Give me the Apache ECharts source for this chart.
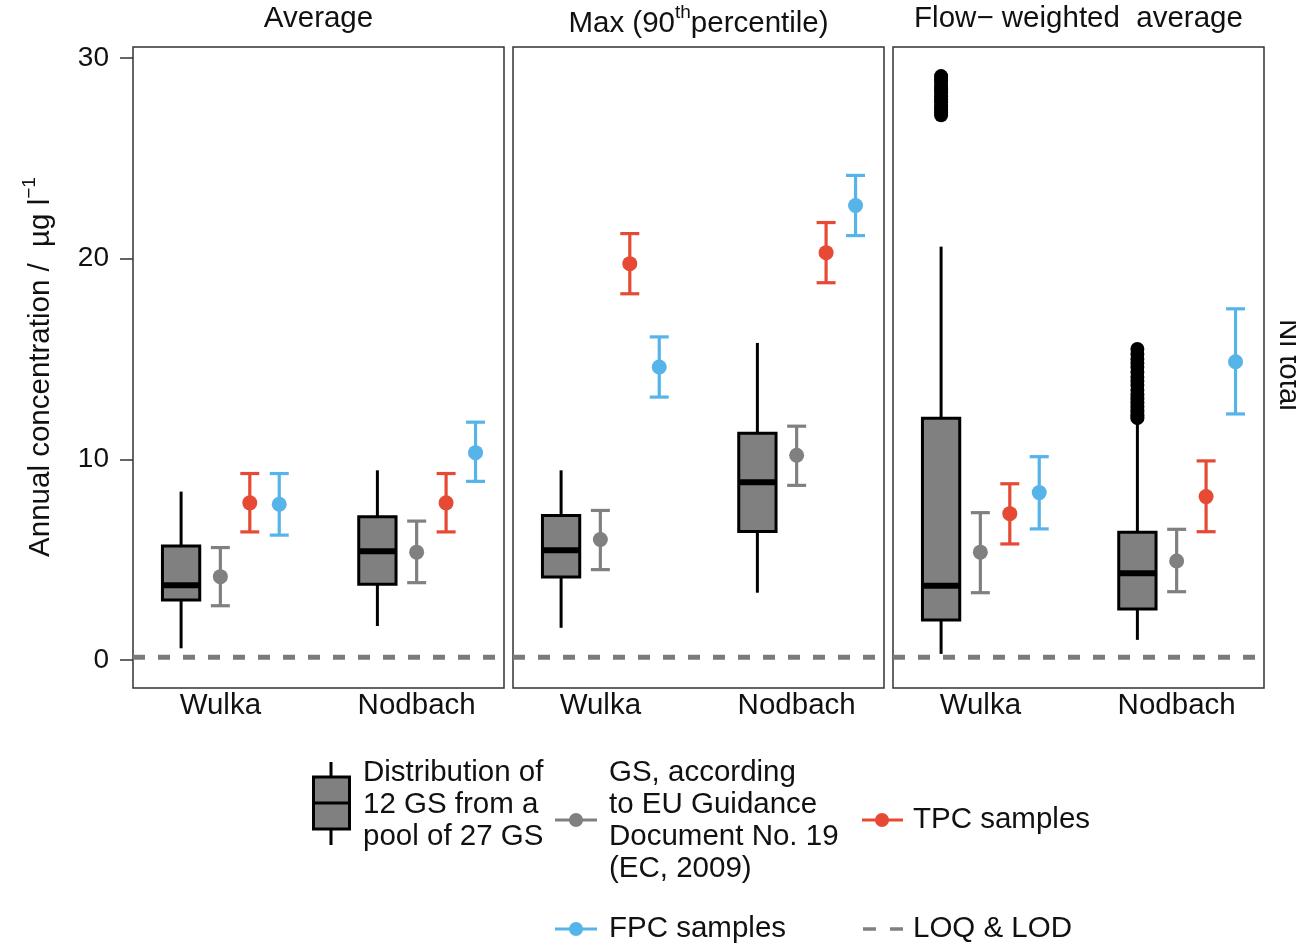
<!DOCTYPE html>
<html>
<head>
<meta charset="utf-8">
<title>Ni total – annual concentration</title>
<script src="https://cdn.jsdelivr.net/npm/echarts@6/dist/echarts.min.js"></script>
<style>
  html, body { margin: 0; padding: 0; background: #fff; }
  #chart { width: 1296px; height: 944px; }
</style>
</head>
<body>
<div id="chart"></div>
<script>
// ---- data -------------------------------------------------------------
const sites = ['Wulka', 'Nodbach'];
const yTicks = [0, 10, 20, 30];
const loqLod = 0.13;

// Box-plot statistics per site: [lower whisker, Q1, median, Q3, upper whisker]
const boxAverage = [[0.58, 2.99, 3.72, 5.68, 8.39], [1.69, 3.77, 5.42, 7.13, 9.45]];
const boxMax     = [[1.6, 4.13, 5.47, 7.2, 9.45],   [3.35, 6.4, 8.85, 11.3, 15.8]];
const boxFlow    = [[0.3, 1.99, 3.7, 12.04, 20.6],  [1.0, 2.54, 4.32, 6.36, 11.8]];

// Outliers of the flow-weighted distribution
const outliersFlowWulka   = [27.15, 27.3, 27.45, 27.6, 27.8, 27.95, 28.1, 28.3, 28.45, 28.6, 28.8, 28.95, 29.1];
const outliersFlowNodbach = [12.05, 12.2, 12.4, 12.6, 12.8, 13.0, 13.2, 13.45, 13.7, 13.9, 14.1, 14.35, 14.6, 14.8, 15.0, 15.25, 15.5];

// Point estimates per site: [value, lower, upper]
const gsAverage  = [[4.15, 2.7, 5.6],    [5.37, 3.85, 6.92]];
const gsMax      = [[6.0, 4.5, 7.45],    [10.2, 8.7, 11.65]];
const gsFlow     = [[5.37, 3.35, 7.34],  [4.93, 3.4, 6.51]];

const tpcAverage = [[7.83, 6.38, 9.29],  [7.83, 6.38, 9.29]];
const tpcMax     = [[19.75, 18.25, 21.25], [20.3, 18.8, 21.8]];
const tpcFlow    = [[7.29, 5.78, 8.78],  [8.14, 6.39, 9.92]];

const fpcAverage = [[7.76, 6.22, 9.29],  [10.33, 8.9, 11.85]];
const fpcMax     = [[14.6, 13.1, 16.1],  [22.65, 21.15, 24.15]];
const fpcFlow    = [[8.34, 6.53, 10.13], [14.86, 12.26, 17.5]];

// ---- layout & styles --------------------------------------------------
const FONT = '"Liberation Sans", Arial, Helvetica, sans-serif';
const FS = 29.5;
const C_GS = '#808080', C_TPC = '#E64A35', C_FPC = '#56B4E9';
const panelLeft = [133, 513, 893];
const panelWidth = 371, panelTop = 47, panelHeight = 641;
const xMin = 0.555, xMax = 2.445, yMin = -1.4, yMax = 30.55;
const offBox = -0.2, offGS = 0, offTPC = 0.15, offFPC = 0.3;
const boxWidth = 0.19;   // in x units
const capPx = 19;

const panels = [
  { box: boxAverage, gs: gsAverage, tpc: tpcAverage, fpc: fpcAverage, out: [[], []] },
  { box: boxMax,     gs: gsMax,     tpc: tpcMax,     fpc: fpcMax,     out: [[], []] },
  { box: boxFlow,    gs: gsFlow,    tpc: tpcFlow,    fpc: fpcFlow,    out: [outliersFlowWulka, outliersFlowNodbach] }
];

function renderBox(params, api) {
  const x = api.value(0);
  const lo = api.coord([x, api.value(1)]);
  const q1 = api.coord([x, api.value(2)]);
  const md = api.coord([x, api.value(3)]);
  const q3 = api.coord([x, api.value(4)]);
  const hi = api.coord([x, api.value(5)]);
  const half = api.size([boxWidth, 0])[0] / 2;
  const ln = (a, b, w) => ({ type: 'line', shape: { x1: a[0], y1: a[1], x2: b[0], y2: b[1] },
    style: { stroke: '#000', lineWidth: w } });
  return { type: 'group', children: [
    ln(lo, q1, 3),
    ln(q3, hi, 3),
    { type: 'rect', shape: { x: q3[0] - half, y: q3[1], width: half * 2, height: q1[1] - q3[1] },
      style: { fill: '#808080', stroke: '#000', lineWidth: 3 } },
    ln([md[0] - half, md[1]], [md[0] + half, md[1]], 6)
  ]};
}

function makeErrorRenderer(color) {
  return function (params, api) {
    const x = api.value(0);
    const lo = api.coord([x, api.value(1)]);
    const hi = api.coord([x, api.value(2)]);
    const st = { stroke: color, lineWidth: 3.2 };
    return { type: 'group', children: [
      { type: 'line', shape: { x1: lo[0], y1: lo[1], x2: hi[0], y2: hi[1] }, style: st },
      { type: 'line', shape: { x1: lo[0] - capPx / 2, y1: lo[1], x2: lo[0] + capPx / 2, y2: lo[1] }, style: st },
      { type: 'line', shape: { x1: hi[0] - capPx / 2, y1: hi[1], x2: hi[0] + capPx / 2, y2: hi[1] }, style: st }
    ]};
  };
}

const grid = [], xAxis = [], yAxis = [], series = [];

panels.forEach((pn, p) => {
  grid.push({ left: panelLeft[p], top: panelTop, width: panelWidth, height: panelHeight,
    show: true, borderColor: '#333', borderWidth: 1.5, backgroundColor: '#fff' });
  xAxis.push({ type: 'value', gridIndex: p, min: xMin, max: xMax,
    axisLine: { show: false }, axisTick: { show: false }, splitLine: { show: false },
    axisLabel: { customValues: [1, 2], formatter: v => sites[Math.round(v) - 1],
      fontFamily: FONT, fontSize: FS, color: '#111', margin: 3 } });
  yAxis.push({ type: 'value', gridIndex: p, min: yMin, max: yMax,
    axisLine: { show: false }, splitLine: { show: false },
    axisTick: { show: p === 0, customValues: yTicks, length: 13, lineStyle: { color: '#333', width: 1.5 } },
    axisLabel: { show: p === 0, customValues: yTicks, fontFamily: FONT, fontSize: 28, color: '#111', margin: 24 } });

  // detection / quantification limit
  series.push({ type: 'line', xAxisIndex: p, yAxisIndex: p, clip: false, symbol: 'none',
    silent: true, z: 1,
    data: [[xMin, loqLod], [p === 2 ? xMax : xMax + 0.05, loqLod]],
    lineStyle: { color: '#7a7a7a', width: 5, type: [12, 13] } });

  series.push({ type: 'custom', xAxisIndex: p, yAxisIndex: p, renderItem: renderBox, z: 2,
    data: pn.box.map((b, i) => [i + 1 + offBox, ...b]) });

  const outData = [];
  pn.out.forEach((vals, i) => vals.forEach(v => outData.push([i + 1 + offBox, v])));
  if (outData.length) {
    series.push({ type: 'scatter', xAxisIndex: p, yAxisIndex: p, symbolSize: 14, z: 3,
      itemStyle: { color: '#000', opacity: 1 }, data: outData });
  }

  [[pn.gs, offGS, C_GS], [pn.tpc, offTPC, C_TPC], [pn.fpc, offFPC, C_FPC]].forEach(([arr, off, col]) => {
    series.push({ type: 'custom', xAxisIndex: p, yAxisIndex: p, renderItem: makeErrorRenderer(col), z: 3,
      data: arr.map((d, i) => [i + 1 + off, d[1], d[2]]) });
    series.push({ type: 'scatter', xAxisIndex: p, yAxisIndex: p, symbolSize: 15, z: 4,
      itemStyle: { color: col, opacity: 1 }, data: arr.map((d, i) => [i + 1 + off, d[0]]) });
  });
});

// ---- texts & key ------------------------------------------------------
const base = { fontFamily: FONT, fontSize: FS, fill: '#111' };
const richNorm = { fontFamily: FONT, fontSize: FS, lineHeight: 36, verticalAlign: 'bottom', fill: '#111' };
const richSup = { fontFamily: FONT, fontSize: 19, lineHeight: 36, verticalAlign: 'top', fill: '#111' };
const centerX = p => panelLeft[p] + panelWidth / 2;

const graphic = [
  { type: 'text', x: centerX(0), y: 19, style: Object.assign({ text: 'Average', align: 'center', verticalAlign: 'middle' }, base) },
  { type: 'text', x: centerX(1), y: 21, style: { text: '{n|Max (90}{s|th}{n|percentile)}', align: 'center', verticalAlign: 'middle',
      rich: { n: richNorm, s: richSup } } },
  { type: 'text', x: centerX(2), y: 19, style: Object.assign({ text: 'Flow\u2212 weighted  average', align: 'center', verticalAlign: 'middle' }, base) },
  { type: 'text', x: 38, y: 367, rotation: Math.PI / 2,
    style: { text: '{n|Annual concentration /  \u00b5g l}{s|\u22121}', align: 'center', verticalAlign: 'middle',
      rich: { n: richNorm, s: richSup } } },
  { type: 'text', x: 1288, y: 365, rotation: -Math.PI / 2,
    style: Object.assign({ text: 'Ni total', align: 'center', verticalAlign: 'middle' }, base) },

  // key: distribution box
  { type: 'line', shape: { x1: 331, y1: 762, x2: 331, y2: 777 }, style: { stroke: '#000', lineWidth: 3 } },
  { type: 'line', shape: { x1: 331, y1: 829, x2: 331, y2: 845 }, style: { stroke: '#000', lineWidth: 3 } },
  { type: 'rect', shape: { x: 313.5, y: 777, width: 36, height: 52 }, style: { fill: '#808080', stroke: '#000', lineWidth: 3 } },
  { type: 'line', shape: { x1: 313.5, y1: 803, x2: 349.5, y2: 803 }, style: { stroke: '#000', lineWidth: 3 } },
  { type: 'text', x: 363, y: 757, style: Object.assign({ text: 'Distribution of\n12 GS from a\npool of 27 GS', lineHeight: 32, verticalAlign: 'top' }, base) },

  // key: GS
  { type: 'line', shape: { x1: 555, y1: 820, x2: 597, y2: 820 }, style: { stroke: C_GS, lineWidth: 3 } },
  { type: 'circle', shape: { cx: 576, cy: 820, r: 7 }, style: { fill: C_GS } },
  { type: 'text', x: 609, y: 757, style: Object.assign({ text: 'GS, according\nto EU Guidance\nDocument No. 19\n(EC, 2009)', lineHeight: 32, verticalAlign: 'top' }, base) },

  // key: TPC
  { type: 'line', shape: { x1: 862, y1: 820, x2: 903, y2: 820 }, style: { stroke: C_TPC, lineWidth: 3 } },
  { type: 'circle', shape: { cx: 882, cy: 820, r: 7 }, style: { fill: C_TPC } },
  { type: 'text', x: 913, y: 820, style: Object.assign({ text: 'TPC samples', verticalAlign: 'middle' }, base) },

  // key: FPC
  { type: 'line', shape: { x1: 555, y1: 929, x2: 597, y2: 929 }, style: { stroke: C_FPC, lineWidth: 3 } },
  { type: 'circle', shape: { cx: 576, cy: 929, r: 7 }, style: { fill: C_FPC } },
  { type: 'text', x: 609, y: 929, style: Object.assign({ text: 'FPC samples', verticalAlign: 'middle' }, base) },

  // key: LOQ & LOD
  { type: 'line', shape: { x1: 863, y1: 929, x2: 903, y2: 929 }, style: { stroke: '#808080', lineWidth: 3.5, lineDash: [13, 14] } },
  { type: 'text', x: 913, y: 929, style: Object.assign({ text: 'LOQ & LOD', verticalAlign: 'middle' }, base) }
];

const chart = echarts.init(document.getElementById('chart'), null, { renderer: 'canvas' });
chart.setOption({
  animation: false,
  backgroundColor: '#fff',
  grid, xAxis, yAxis, series, graphic
});
</script>
</body>
</html>
